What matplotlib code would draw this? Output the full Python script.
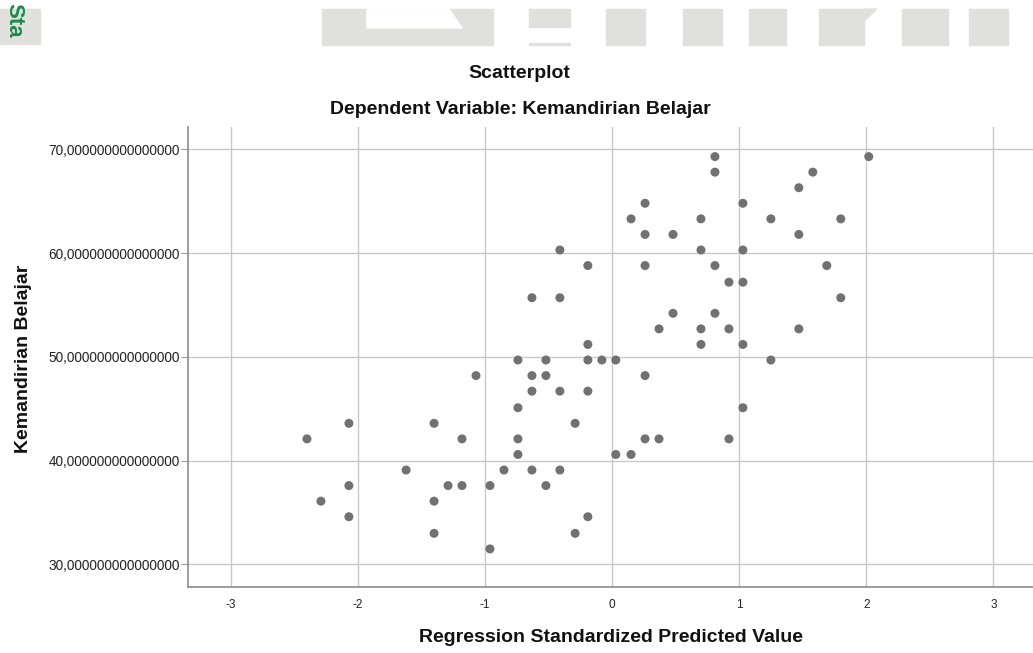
import numpy as np
import matplotlib
matplotlib.use("Agg")
import matplotlib.pyplot as plt
from matplotlib.patches import Rectangle, Polygon

plt.rcParams['font.family'] = ['Liberation Sans', 'DejaVu Sans']

# regression standardized predicted value (x) and Kemandirian Belajar (y)
pred = [-2.07, -2.40, -1.40, -1.18, -1.62, -0.85, -2.07, -1.29, -1.18, -0.96,
        -2.29, -1.40, -2.07, -1.40, -0.96, -0.41, -0.19, 0.26, -0.63, -0.41,
        0.48, 0.37, -0.19, -0.74, -0.52, -0.19, -0.08, 0.03, -1.07, -0.63,
        -0.52, 0.26, -0.63, -0.41, -0.19, -0.74, -0.29, -0.74, 0.26, 0.37,
        -0.74, 0.03, 0.15, -0.63, -0.41, -0.52, -0.19, -0.29, 0.81, 0.81,
        1.47, 0.26, 1.03, 0.15, 0.70, 1.25, 0.26, 0.48, 1.47, 0.70,
        1.03, 0.81, 0.92, 1.03, 0.81, 0.70, 0.92, 1.47, 0.70, 1.03,
        1.25, 1.03, 0.92, 2.02, 1.58, 1.80, 1.69, 1.80]
kemandirian = [43.6, 42.1, 43.6, 42.1, 39.1, 39.1, 37.6, 37.6, 37.6, 37.6,
               36.1, 36.1, 34.6, 33.0, 31.5, 60.3, 58.8, 58.8, 55.7, 55.7,
               54.2, 52.7, 51.2, 49.7, 49.7, 49.7, 49.7, 49.7, 48.2, 48.2,
               48.2, 48.2, 46.7, 46.7, 46.7, 45.1, 43.6, 42.1, 42.1, 42.1,
               40.6, 40.6, 40.6, 39.1, 39.1, 37.6, 34.6, 33.0, 69.3, 67.8,
               66.3, 64.8, 64.8, 63.3, 63.3, 63.3, 61.8, 61.8, 61.8, 60.3,
               60.3, 58.8, 57.2, 57.2, 54.2, 52.7, 52.7, 52.7, 51.2, 51.2,
               49.7, 45.1, 42.1, 69.3, 67.8, 63.3, 58.8, 55.7]

x_ticks = [-3, -2, -1, 0, 1, 2, 3]
y_ticks = [30, 40, 50, 60, 70]
y_ticklabels = ["%d,000000000000000" % v for v in y_ticks]

W, H = 1033, 653
fig = plt.figure(figsize=(W / 100, H / 100), dpi=100)

# watermark band at the top of the page
wm = '#e0e0dc'
def px_rect(x0, y0, x1, y1, color):
    fig.patches.append(Rectangle((x0 / W, 1 - y1 / H), (x1 - x0) / W, (y1 - y0) / H,
                                 transform=fig.transFigure, color=color, zorder=0))

px_rect(0, 9, 40, 44, wm)
px_rect(322, 9, 493, 45, wm)
fig.patches.append(Polygon([(367 / W, 1 - 9 / H), (449 / W, 1 - 9 / H), (462 / W, 1 - 28 / H),
                            (367 / W, 1 - 28 / H)], closed=True, transform=fig.transFigure,
                           color='white', zorder=0))
px_rect(529, 9, 570, 27, wm)
px_rect(529, 43, 570, 45, wm)
px_rect(606, 9, 645, 45, wm)
px_rect(683, 9, 722, 45, wm)
px_rect(749, 9, 786, 45, wm)
px_rect(819, 9, 864, 45, wm)
fig.patches.append(Polygon([(864 / W, 1 - 9 / H), (877 / W, 1 - 9 / H), (864 / W, 1 - 21 / H)],
                           closed=True, transform=fig.transFigure, color=wm, zorder=0))
px_rect(902, 9, 948, 45, wm)
px_rect(969, 9, 1008, 45, wm)
fig.text(0.013, 1 - 3 / H, "Sta", rotation=-90, va='top', ha='center', fontsize=16,
         fontweight='bold', color='#1f8a4c')

ax = fig.add_axes([188 / W, 1 - 587 / H, (1036 - 188) / W, (587 - 127) / H])
ax.scatter(pred, kemandirian, s=42, color='#717171', edgecolors='none', zorder=3)

ax.set_xlim(-3.336, 3.336)
ax.set_ylim(27.83, 72.15)
ax.set_xticks(x_ticks)
ax.set_xticklabels([str(v) for v in x_ticks], fontsize=8.5, color='#222222')
ax.set_yticks(y_ticks)
ax.set_yticklabels(y_ticklabels, fontsize=9.8, color='#222222')
ax.grid(True, color='#c8c8c8', linewidth=1.0)
ax.set_axisbelow(True)
ax.tick_params(axis='x', length=0, pad=9)
ax.tick_params(axis='y', length=5, color='#9a9a9a', pad=1)
for s in ['top', 'right']:
    ax.spines[s].set_visible(False)
for s in ['left', 'bottom']:
    ax.spines[s].set_color('#8c8c8c')
    ax.spines[s].set_linewidth(1.2)

title_kw = dict(ha='center', va='center', fontsize=14, fontweight='bold', color='#111111')
fig.text(519 / W, 1 - 73 / H, "Scatterplot", **title_kw)
fig.text(520 / W, 1 - 109 / H, "Dependent Variable: Kemandirian Belajar", **title_kw)
fig.text(611 / W, 1 - 637 / H, "Regression Standardized Predicted Value", **title_kw)
fig.text(24 / W, 1 - 359 / H, "Kemandirian Belajar", rotation=90, **title_kw)

fig.savefig("out.png", dpi=100)
